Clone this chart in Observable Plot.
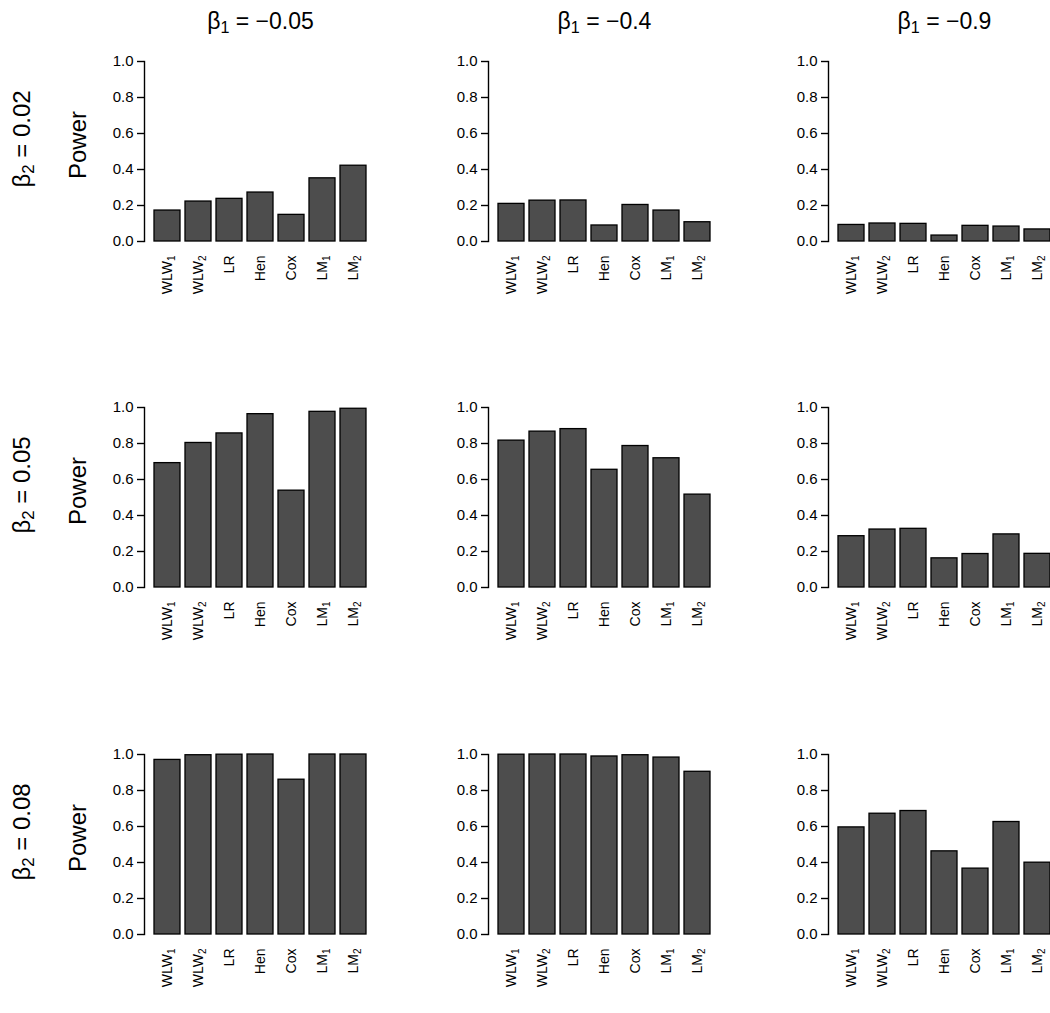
<!DOCTYPE html>
<html><head><meta charset="utf-8">
<script src="https://cdn.jsdelivr.net/npm/d3@7"></script>
<script src="https://cdn.jsdelivr.net/npm/@observablehq/plot@0.6"></script>
<style>
body{margin:0;background:#fff;font-family:"Liberation Sans",Arial,sans-serif;overflow:hidden}
#chart{position:relative;width:1050px;height:1013px;overflow:hidden;background:#fff}
.panel{position:absolute}
.coltitle{position:absolute;font-size:23px;line-height:1;transform:translateX(-50%);white-space:nowrap;color:#000}
.rowlab{position:absolute;line-height:1;transform:translate(-50%,-50%) rotate(-90deg);white-space:nowrap;color:#000}
sub{font-size:70%;vertical-align:-0.25em;line-height:0}
</style></head><body><div id="chart"></div>
<script>
// ---- data ----
const methods = ["WLW₁","WLW₂","LR","Hen","Cox","LM₁","LM₂"];
const beta1Labels = ["−0.05","−0.4","−0.9"];
const beta2Labels = ["0.02","0.05","0.08"];
const yTicks = [0, 0.2, 0.4, 0.6, 0.8, 1.0];
const yLabel = "Power";

const power_b2_002_b1_005 = [0.172, 0.222, 0.237, 0.272, 0.148, 0.351, 0.421];
const power_b2_002_b1_04  = [0.209, 0.227, 0.228, 0.089, 0.203, 0.172, 0.107];
const power_b2_002_b1_09  = [0.092, 0.100, 0.098, 0.033, 0.087, 0.083, 0.067];
const power_b2_005_b1_005 = [0.691, 0.803, 0.856, 0.963, 0.538, 0.976, 0.993];
const power_b2_005_b1_04  = [0.816, 0.866, 0.880, 0.654, 0.786, 0.718, 0.516];
const power_b2_005_b1_09  = [0.285, 0.322, 0.326, 0.162, 0.186, 0.295, 0.187];
const power_b2_008_b1_005 = [0.970, 0.996, 0.999, 1.000, 0.860, 1.000, 1.000];
const power_b2_008_b1_04  = [0.999, 1.000, 1.000, 0.989, 0.996, 0.983, 0.904];
const power_b2_008_b1_09  = [0.595, 0.671, 0.686, 0.462, 0.366, 0.625, 0.399];

const grid = [
  [power_b2_002_b1_005, power_b2_002_b1_04, power_b2_002_b1_09],
  [power_b2_005_b1_005, power_b2_005_b1_04, power_b2_005_b1_09],
  [power_b2_008_b1_005, power_b2_008_b1_04, power_b2_008_b1_09]
];

// ---- layout ----
const colAxisX = [144, 488, 828];
const rowTopY = [61, 407, 754];
const ML = 46, MT = 10, MB = 70, PH = 180, BARSPAN = 223, MR = 2;
const W = ML + BARSPAN + MR;
const font = '"Liberation Sans", Arial, sans-serif';

const chart = document.getElementById("chart");
const subMap = {"₁": "1", "₂": "2"};

function panel(values) {
  const data = methods.map((m, i) => ({method: m, power: values[i]}));
  const svg = Plot.plot({
    width: W, height: MT + PH + MB,
    marginLeft: ML, marginRight: MR, marginTop: MT, marginBottom: MB,
    style: {fontFamily: font, background: "transparent", overflow: "visible", color: "#000"},
    x: {type: "band", domain: methods, paddingInner: 1/6, paddingOuter: 0, align: 0, insetLeft: 10, axis: null},
    y: {domain: [0, 1], axis: null},
    marks: [
      Plot.barY(data, {x: "method", y: "power", fill: "#4d4d4d", stroke: "#000", strokeWidth: 1.3}),
      Plot.frame({anchor: "left", stroke: "#000", strokeWidth: 1.4}),
      Plot.axisY(yTicks, {tickFormat: d3.format(".1f"), tickSize: 7, tickPadding: 4, fontSize: 15, label: null, strokeWidth: 1.4}),
      Plot.axisX({tickSize: 0, tickRotate: -90, tickPadding: 14, fontSize: 14, label: null})
    ]
  });
  // true subscripts on method labels
  svg.querySelectorAll("text").forEach(t => {
    const s = t.textContent;
    const last = s.slice(-1);
    if (subMap[last]) {
      t.textContent = s.slice(0, -1);
      const ts = document.createElementNS("http://www.w3.org/2000/svg", "tspan");
      ts.textContent = subMap[last];
      ts.setAttribute("dy", "3");
      ts.setAttribute("font-size", "10");
      t.appendChild(ts);
    }
  });
  return svg;
}

grid.forEach((row, r) => {
  row.forEach((vals, c) => {
    const el = panel(vals);
    el.classList.add("panel");
    el.style.left = (colAxisX[c] - ML) + "px";
    el.style.top = (rowTopY[r] - MT) + "px";
    chart.appendChild(el);
  });
});

// column titles
const colCenterX = colAxisX.map(x => x + 10 + (BARSPAN - 10) / 2);
beta1Labels.forEach((lab, c) => {
  const d = document.createElement("div");
  d.className = "coltitle";
  d.innerHTML = "β<sub>1</sub> = " + lab;
  d.style.left = colCenterX[c] + "px";
  d.style.top = "10px";
  chart.appendChild(d);
});

// row labels
beta2Labels.forEach((lab, r) => {
  const b = document.createElement("div");
  b.className = "rowlab";
  b.style.fontSize = "24px";
  b.innerHTML = "β<sub>2</sub> = " + lab;
  b.style.left = "22px";
  b.style.top = (rowTopY[r] + 78) + "px";
  chart.appendChild(b);
  const p = document.createElement("div");
  p.className = "rowlab";
  p.style.fontSize = "24px";
  p.textContent = yLabel;
  p.style.left = "78px";
  p.style.top = (rowTopY[r] + 84) + "px";
  chart.appendChild(p);
});
</script></body></html>
